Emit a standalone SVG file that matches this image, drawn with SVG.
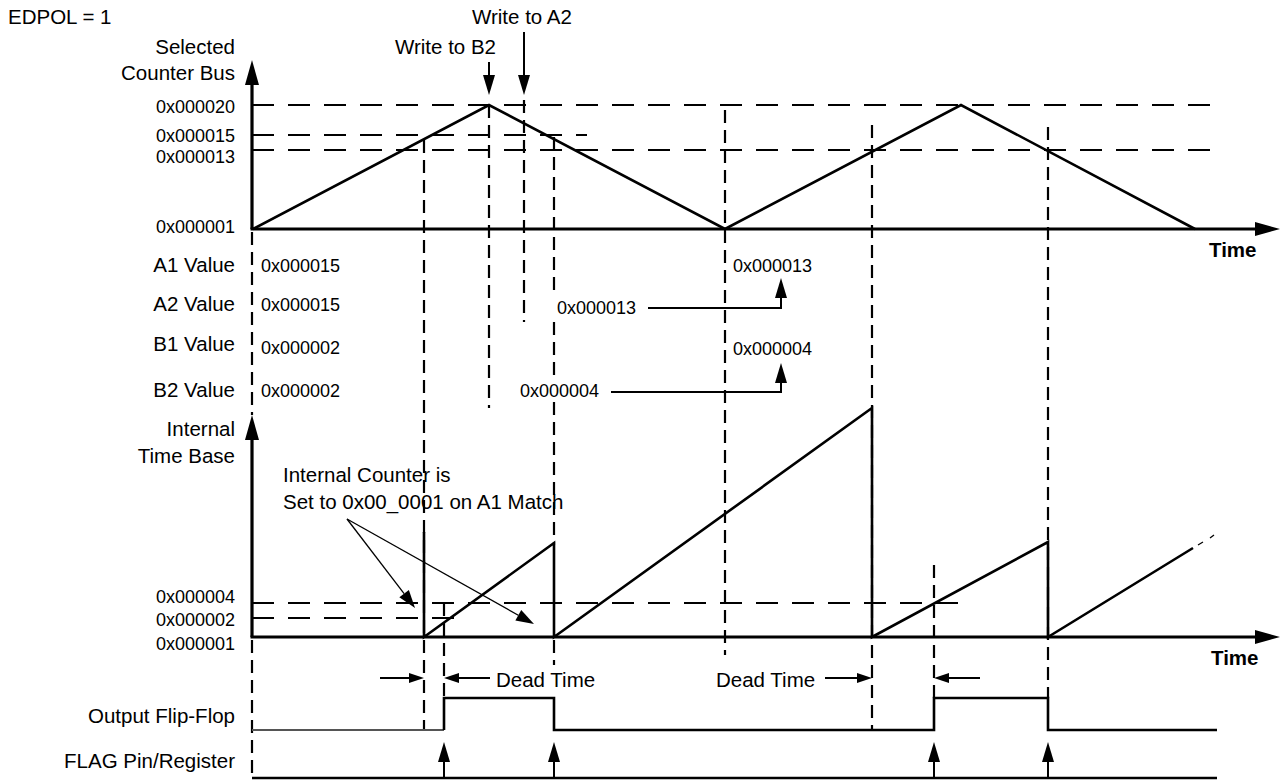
<svg xmlns="http://www.w3.org/2000/svg" width="1285" height="782" viewBox="0 0 1285 782">
<style>
text{font-family:"Liberation Sans",Arial,sans-serif;fill:#000}
.lbl{font-size:20.5px}
.r{text-anchor:end}
.hex{font-size:18px}
.bold{font-size:20.5px;font-weight:bold}
.axis{stroke:#000;stroke-width:3.2;fill:none}
.wave{stroke:#000;stroke-width:2.6;fill:none}
.hd{stroke:#000;stroke-width:2.2;stroke-dasharray:22 14;fill:none}
.vd{stroke:#000;stroke-width:2.2;stroke-dasharray:13 7;fill:none}
.thin{stroke:#000;stroke-width:1.3;fill:none}
.arr{stroke:#000;stroke-width:2;fill:none}
</style>
<defs>
<marker id="mAxis" markerUnits="userSpaceOnUse" markerWidth="26" markerHeight="16" refX="0" refY="7" orient="auto" overflow="visible"><path d="M0,0 L25,7 L0,14 Z" fill="#000"/></marker>
<marker id="mBig" markerUnits="userSpaceOnUse" markerWidth="21" markerHeight="13" refX="0" refY="6" orient="auto" overflow="visible"><path d="M0,0 L20,6 L0,12 Z" fill="#000"/></marker>
<marker id="mSmall" markerUnits="userSpaceOnUse" markerWidth="16" markerHeight="11" refX="0" refY="5" orient="auto" overflow="visible"><path d="M0,0 L15,5 L0,10 Z" fill="#000"/></marker>
<marker id="mNote" markerUnits="userSpaceOnUse" markerWidth="19" markerHeight="13" refX="0" refY="6" orient="auto" overflow="visible"><path d="M0,0 L18,6 L0,12 Z" fill="#000"/></marker>
</defs>

<g id="guides">
<path class="hd" d="M252,105 H1217 M252,135 H587 M252,150 H1217 M252,603 H972 M252,618 H463"/>
<path class="vd" d="M252,232 V415 M252,640 V778 M424,140 V730 M444,603 V698 M489,105 V408 M524,100 V322 M554,137 V292 M554,322 V378 M554,402 V545 M554,640 V665 M725,110 V655 M872,125 V730 M934,565 V698 M1048,127 V698"/>
</g>

<g id="counter-bus">
<path class="axis" d="M252,229 V85" marker-end="url(#mAxis)"/>
<path class="axis" d="M250.5,229 H1255" marker-end="url(#mAxis)"/>
<path class="wave" d="M253,229 L489,105 L725,229 L961,105 L1195,229"/>
<text class="lbl r" x="235" y="54">Selected</text>
<text class="lbl r" x="235" y="80">Counter Bus</text>
<text class="hex r" x="235" y="113">0x000020</text>
<text class="hex r" x="235" y="142">0x000015</text>
<text class="hex r" x="235" y="163">0x000013</text>
<text class="hex r" x="235" y="233">0x000001</text>
<text class="bold" x="1209" y="257">Time</text>
</g>

<g id="writes">
<text class="lbl" x="8" y="24">EDPOL = 1</text>
<text class="lbl" x="472" y="24">Write to A2</text>
<text class="lbl" x="395" y="54">Write to B2</text>
<path class="arr" d="M524,32 V75" marker-end="url(#mBig)"/>
<path class="arr" d="M489,62 V75" marker-end="url(#mBig)"/>
</g>

<g id="registers">
<text class="lbl r" x="235" y="272">A1 Value</text>
<text class="lbl r" x="235" y="311">A2 Value</text>
<text class="lbl r" x="235" y="351">B1 Value</text>
<text class="lbl r" x="235" y="397">B2 Value</text>
<text class="hex" x="261" y="272">0x000015</text>
<text class="hex" x="261" y="311">0x000015</text>
<text class="hex" x="261" y="354">0x000002</text>
<text class="hex" x="261" y="397">0x000002</text>
<text class="hex" x="733" y="272">0x000013</text>
<text class="hex" x="733" y="355">0x000004</text>
<text class="hex" x="557" y="314">0x000013</text>
<text class="hex" x="520" y="397">0x000004</text>
<path class="arr" d="M648,308 H781 V298" marker-end="url(#mBig)"/>
<path class="arr" d="M611,392 H781 V383" marker-end="url(#mBig)"/>
</g>

<g id="time-base">
<path class="axis" d="M252,637 V440" marker-end="url(#mAxis)"/>
<path class="axis" d="M250.5,637 H1255" marker-end="url(#mAxis)"/>
<path class="wave" d="M424,532 L424,637 L554,543 L554,637 L872,408 L872,637 L1048,542 L1048,637 L1193,548"/>
<path class="thin" d="M1198,545 L1203,542 M1210,538 L1214,535" stroke-width="1.5"/>
<text class="lbl r" x="235" y="436">Internal</text>
<text class="lbl r" x="235" y="463">Time Base</text>
<text class="hex r" x="235" y="603">0x000004</text>
<text class="hex r" x="235" y="626">0x000002</text>
<text class="hex r" x="235" y="650">0x000001</text>
<text class="bold" x="1211" y="665">Time</text>
</g>

<g id="annotation">
<text class="lbl" x="283" y="482">Internal Counter is</text>
<text class="lbl" x="283" y="509">Set to 0x00_0001 on A1 Match</text>
<path class="thin" d="M347,519 L404.1,593.7" marker-end="url(#mNote)"/>
<path class="thin" d="M347,519 L518.3,615.2" marker-end="url(#mNote)"/>
</g>

<g id="dead-time">
<path class="arr" d="M380,678 H409" marker-end="url(#mSmall)"/>
<path class="arr" d="M490,678 H459" marker-end="url(#mSmall)"/>
<path class="arr" d="M825,678 H857" marker-end="url(#mSmall)"/>
<path class="arr" d="M980,678 H949" marker-end="url(#mSmall)"/>
<text class="lbl" x="496" y="687">Dead Time</text>
<text class="lbl" x="716" y="687">Dead Time</text>
</g>

<g id="output-ff">
<text class="lbl r" x="235" y="723">Output Flip-Flop</text>
<path d="M252,730 H444" stroke="#555" stroke-width="2" fill="none"/>
<path class="wave" d="M444,730 V698 H554 V730 H934 V698 H1048 V730 H1217"/>
</g>

<g id="flag">
<text class="lbl r" x="235" y="768">FLAG Pin/Register</text>
<path class="wave" d="M252,778 H1217"/>
<path class="arr" d="M444,778 V762" marker-end="url(#mBig)"/>
<path class="arr" d="M554,778 V762" marker-end="url(#mBig)"/>
<path class="arr" d="M934,778 V762" marker-end="url(#mBig)"/>
<path class="arr" d="M1048,778 V762" marker-end="url(#mBig)"/>
</g>
</svg>
